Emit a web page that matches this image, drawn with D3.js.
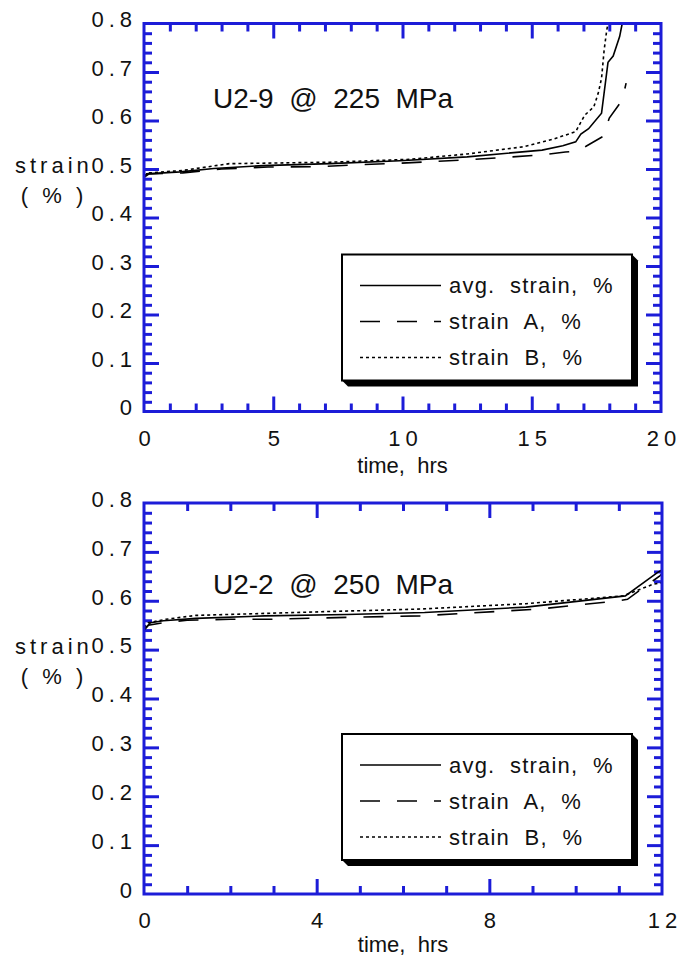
<!DOCTYPE html>
<html>
<head>
<meta charset="utf-8">
<script src="https://cdn.jsdelivr.net/npm/d3@7"></script>
<style>
  body { margin: 0; background: #fff; }
  svg { display: block; }
  text { font-family: "Liberation Sans", Arial, sans-serif; fill: #111; }
</style>
</head>
<body>
<svg id="chart" width="683" height="964"></svg>
<script>
'use strict'
// 数据: [time hrs, strain %]
var u29Avg = [[0,0.483],[0.1,0.49],[1.4,0.494],[2.7,0.501],[4.6,0.507],[7.2,0.511],[9.9,0.517],[12.5,0.525],[15.4,0.539],[16.2,0.548],[16.7,0.556],[16.9,0.572],[17.2,0.583],[17.7,0.615],[17.95,0.72],[18.15,0.733],[18.4,0.773],[18.5,0.8]];
var u29A = [[0,0.483],[0.2,0.49],[1.5,0.492],[3.0,0.5],[4.8,0.504],[6.9,0.505],[8.4,0.509],[9.9,0.512],[12.5,0.519],[15.4,0.529],[16.3,0.535],[16.75,0.537],[17.1,0.547],[17.75,0.567],[18.0,0.605],[18.5,0.642],[18.65,0.677]];
var u29B = [[0,0.485],[0.2,0.492],[1.5,0.497],[3.3,0.511],[7.2,0.514],[10.3,0.52],[12.5,0.531],[14.7,0.546],[15.8,0.561],[16.7,0.577],[17.05,0.611],[17.4,0.628],[17.57,0.656],[17.7,0.687],[17.8,0.745],[17.9,0.786],[17.95,0.8]];

var u22Avg = [[0,0.54],[0.06,0.546],[0.15,0.555],[0.45,0.559],[1.2,0.564],[2.8,0.569],[4.7,0.572],[6.5,0.576],[8.85,0.587],[11.15,0.61],[11.9,0.658],[12,0.663]];
var u22A = [[0,0.54],[0.1,0.55],[0.5,0.556],[1.0,0.56],[2.0,0.562],[2.9,0.562],[4.7,0.566],[6.4,0.569],[9.15,0.583],[11.0,0.6],[11.2,0.603],[11.95,0.651],[12,0.655]];
var u22B = [[0,0.545],[0.1,0.555],[0.5,0.562],[1.2,0.57],[4.3,0.578],[6.4,0.583],[8.85,0.594],[11.1,0.61],[11.8,0.634],[12,0.637]];

var yTickLabels = [0, 0.1, 0.2, 0.3, 0.4, 0.5, 0.6, 0.7, 0.8];
var legendNames = ["avg.  strain,  %", "strain  A,  %", "strain  B,  %"];
var titles = ["U2-9  @  225  MPa", "U2-2  @  250  MPa"];

var BLUE = "#1c1cd8";
var svg = d3.select("#chart");

// 线型: 实线, 虚线, 点线
var dashes = [null, "20,17", "3,3"];

drawPanel({
    id: "p1", left: 144, right: 661, top: 23.5, bottom: 411.5,
    xMax: 20, xMajor: [0, 5, 10, 15, 20], title: titles[0], titleY: 108,
    series: [u29Avg, u29A, u29B], labelPad: 19, nameOff: 61
});
drawPanel({
    id: "p2", left: 144, right: 662, top: 503, bottom: 894,
    xMax: 12, xMajor: [0, 4, 8, 12], title: titles[1], titleY: 594,
    series: [u22Avg, u22A, u22B], labelPad: 18, nameOff: 58
});

function drawPanel(cfg) {
    var x = d3.scaleLinear().domain([0, cfg.xMax]).range([cfg.left, cfg.right]);
    var y = d3.scaleLinear().domain([0, 0.8]).range([cfg.bottom, cfg.top]);
    var g = svg.append("g");

    var minorX = d3.range(1, cfg.xMax).filter(function (d) { return cfg.xMajor.indexOf(d) < 0; });
    var minorY = d3.range(1, 40).map(function (i) { return i * 0.02; })
        .filter(function (d) { return Math.abs(d * 10 - Math.round(d * 10)) > 1e-6; });
    var majorY = yTickLabels.slice(1, -1);
    var majorXin = cfg.xMajor.slice(1, -1);

    function tickStyle(sel) {
        sel.select(".domain").remove();
        sel.selectAll("line").attr("stroke", BLUE).attr("stroke-width", 3);
    }

    // 向内的刻度
    g.append("g").attr("transform", "translate(" + cfg.left + ",0)")
        .call(d3.axisLeft(y).tickValues(minorY).tickSize(-8).tickFormat("")).call(tickStyle);
    g.append("g").attr("transform", "translate(" + cfg.left + ",0)")
        .call(d3.axisLeft(y).tickValues(majorY).tickSize(-15).tickFormat("")).call(tickStyle);
    g.append("g").attr("transform", "translate(" + cfg.right + ",0)")
        .call(d3.axisRight(y).tickValues(minorY).tickSize(-8).tickFormat("")).call(tickStyle);
    g.append("g").attr("transform", "translate(" + cfg.right + ",0)")
        .call(d3.axisRight(y).tickValues(majorY).tickSize(-15).tickFormat("")).call(tickStyle);
    g.append("g").attr("transform", "translate(0," + cfg.top + ")")
        .call(d3.axisTop(x).tickValues(minorX).tickSize(-8).tickFormat("")).call(tickStyle);
    g.append("g").attr("transform", "translate(0," + cfg.top + ")")
        .call(d3.axisTop(x).tickValues(majorXin).tickSize(-15).tickFormat("")).call(tickStyle);
    g.append("g").attr("transform", "translate(0," + cfg.bottom + ")")
        .call(d3.axisBottom(x).tickValues(minorX).tickSize(-8).tickFormat("")).call(tickStyle);
    g.append("g").attr("transform", "translate(0," + cfg.bottom + ")")
        .call(d3.axisBottom(x).tickValues(majorXin).tickSize(-15).tickFormat("")).call(tickStyle);

    // 刻度文字
    var yl = g.append("g").attr("transform", "translate(" + cfg.left + ",0)")
        .call(d3.axisLeft(y).tickValues(yTickLabels).tickSize(0).tickPadding(7)
            .tickFormat(function (d) { return d === 0 ? "0" : d3.format(".1f")(d); }));
    yl.select(".domain").remove();
    yl.selectAll("text").attr("dy", "0.15em").style("font-size", "22px")
        .style("letter-spacing", "5px").style("font-family", '"Liberation Sans", Arial, sans-serif').attr("fill", "#111");

    var xl = g.append("g").attr("transform", "translate(0," + cfg.bottom + ")")
        .call(d3.axisBottom(x).tickValues(cfg.xMajor).tickSize(0).tickPadding(cfg.labelPad).tickFormat(d3.format("d")));
    xl.select(".domain").remove();
    xl.selectAll("text").attr("dx", "2.5px").style("font-size", "22px")
        .style("letter-spacing", "5px").style("font-family", '"Liberation Sans", Arial, sans-serif').attr("fill", "#111");

    // 坐标轴标题
    g.append("text").attr("x", 15).attr("y", y(0.5) + 4)
        .style("font-size", "22px").style("letter-spacing", "4px").text("strain");
    g.append("text").attr("x", 54).attr("y", y(0.5) + 34).attr("text-anchor", "middle")
        .style("font-size", "22px").style("letter-spacing", "4px").style("white-space", "pre").text("( % )");
    g.append("text").attr("x", (cfg.left + cfg.right) / 2).attr("y", cfg.bottom + cfg.nameOff)
        .attr("text-anchor", "middle").style("font-size", "22px").style("white-space", "pre")
        .text("time,  hrs");

    // 标题
    g.append("text").attr("x", 213).attr("y", cfg.titleY)
        .style("font-size", "28px").style("white-space", "pre").text(cfg.title);

    // 数据线
    svg.append("clipPath").attr("id", "clip-" + cfg.id).append("rect")
        .attr("x", cfg.left).attr("y", cfg.top)
        .attr("width", cfg.right - cfg.left).attr("height", cfg.bottom - cfg.top);
    var line = d3.line()
        .x(function (d) { return x(d[0]); })
        .y(function (d) { return y(d[1]); });
    var lg = g.append("g").attr("clip-path", "url(#clip-" + cfg.id + ")");
    cfg.series.forEach(function (s, i) {
        lg.append("path").datum(s).attr("d", line)
            .attr("fill", "none").attr("stroke", "#000").attr("stroke-width", 1.6)
            .attr("stroke-dasharray", dashes[i]);
    });

    // 边框
    g.append("rect").attr("x", cfg.left).attr("y", cfg.top)
        .attr("width", cfg.right - cfg.left).attr("height", cfg.bottom - cfg.top)
        .attr("fill", "none").attr("stroke", BLUE).attr("stroke-width", 3);

    // 图例 (带阴影)
    var bx = 342, by = cfg.top + 231, bw = 290, bh = 126, sh = 6;
    var leg = g.append("g");
    leg.append("path")
        .attr("d", "M" + (bx + bw) + "," + by + "L" + (bx + bw + sh) + "," + (by + sh) +
            "L" + (bx + bw + sh) + "," + (by + bh + sh) + "L" + (bx + sh) + "," + (by + bh + sh) +
            "L" + bx + "," + (by + bh) + "Z")
        .attr("fill", "#000");
    leg.append("rect").attr("x", bx).attr("y", by).attr("width", bw).attr("height", bh)
        .attr("fill", "#fff").attr("stroke", "#000").attr("stroke-width", 2);
    legendNames.forEach(function (name, i) {
        var ly = by + 31 + i * 36;
        leg.append("line").attr("x1", bx + 18).attr("x2", bx + 99).attr("y1", ly).attr("y2", ly)
            .attr("stroke", "#000").attr("stroke-width", 1.6).attr("stroke-dasharray", dashes[i]);
        leg.append("text").attr("x", bx + 107).attr("y", ly + 7.5)
            .style("font-size", "22px").style("letter-spacing", "1.2px").style("white-space", "pre")
            .text(name);
    });
}
</script>
</body>
</html>
